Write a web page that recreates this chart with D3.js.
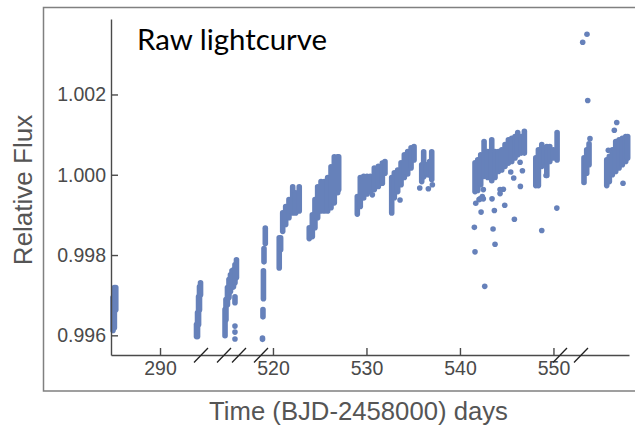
<!DOCTYPE html>
<meta charset="utf-8">
<script src="https://d3js.org/d3.v7.min.js"></script>
<style>
    body { margin: 0; background: white; }
    text { font-family: "Liberation Sans", Arial, sans-serif; }
</style>
<svg id="vis"></svg>

<script>
    // broken time axis: each pair of values is one visible stretch of days
    const axisDays = [284.76, 294.38, 500, 501.6, 518.72, 550.7, 553, 558.13]
    const axisPixels = [111, 201, 224, 239, 261, 560, 581, 629]
    const breakDays = [294.38, 500, 501.6, 518.72, 550.7, 553]

    const timeTicks = [290, 520, 530, 540, 550]
    const fluxTicks = [0.996, 0.998, 1.000, 1.002]

    // the points overlap too much to read singly, so dense runs are kept
    // as [day, lowest flux, highest flux] per column
    const earlyRuns = [
        [284.97, 0.99612, 0.99694], [285.12, 0.99619, 0.99719], [285.27, 0.99664, 0.99719],
        [293.90, 0.99597, 0.99627], [294.01, 0.99597, 0.99656], [294.12, 0.99627, 0.99696],
        [294.22, 0.99664, 0.99721], [294.33, 0.99701, 0.99731],
        [500.11, 0.99599, 0.99664], [500.21, 0.99639, 0.99689], [500.37, 0.99676, 0.99719],
        [500.53, 0.99694, 0.99739], [500.69, 0.99709, 0.99751], [500.85, 0.99719, 0.99761],
        [501.01, 0.99721, 0.99763], [501.17, 0.99731, 0.99776], [501.17, 0.99681, 0.99696],
        [501.33, 0.99744, 0.99788],
        [518.88, 0.99590, 0.99593], [518.93, 0.99646, 0.99664], [518.98, 0.99691, 0.99761],
        [519.04, 0.99783, 0.99816], [519.18, 0.99829, 0.99867]
    ]
    const riseRuns = [
        [520.67, 0.99768, 0.99843], [520.82, 0.99813, 0.99843], [521.04, 0.99859, 0.99905],
        [521.36, 0.99876, 0.99921], [521.71, 0.99893, 0.99938], [522.11, 0.99905, 0.99970],
        [522.43, 0.99905, 0.99955], [522.81, 0.99910, 0.99970],
        [523.88, 0.99841, 0.99868], [524.21, 0.99846, 0.99900], [524.49, 0.99868, 0.99938],
        [524.78, 0.99893, 0.99970], [525.14, 0.99910, 0.99983], [525.49, 0.99910, 0.99983],
        [525.85, 0.99910, 0.99993], [526.21, 0.99918, 1.00020], [526.56, 0.99930, 1.00045],
        [526.92, 0.99955, 1.00045], [527.03, 0.99963, 1.00045]
    ]
    const plateauRuns = [
        [529.02, 0.99902, 0.99946], [529.34, 0.99921, 0.99993], [529.70, 0.99942, 0.99996],
        [530.06, 0.99952, 0.99996], [530.41, 0.99958, 0.99996], [530.84, 0.99963, 1.00017],
        [531.27, 0.99971, 1.00021], [531.70, 0.99979, 1.00029], [531.98, 1.00004, 1.00033],
        [532.70, 0.99905, 0.99993], [532.98, 0.99943, 1.00005], [533.34, 0.99958, 1.00012],
        [533.70, 0.99975, 1.00030], [534.05, 0.99993, 1.00050], [534.41, 1.00002, 1.00058],
        [534.77, 1.00017, 1.00067], [535.09, 1.00037, 1.00070],
        [535.91, 0.99983, 1.00025], [536.12, 0.99995, 1.00057], [536.37, 1.00005, 1.00025],
        [536.55, 1.00000, 1.00025], [536.75, 1.00000, 1.00033], [536.98, 0.99988, 1.00057]
    ]
    const lateRuns = [
        [541.61, 0.99958, 1.00030], [541.90, 0.99961, 1.00037], [542.22, 0.99975, 1.00050],
        [542.58, 0.99996, 1.00083], [542.97, 0.99993, 1.00058], [543.40, 0.99985, 1.00087],
        [543.75, 0.99993, 1.00058], [544.11, 1.00008, 1.00058], [544.47, 1.00012, 1.00062],
        [544.82, 1.00021, 1.00075], [545.18, 1.00029, 1.00087], [545.54, 1.00033, 1.00091],
        [545.89, 1.00042, 1.00095], [546.18, 1.00050, 1.00105], [546.54, 1.00054, 1.00095],
        [546.89, 1.00054, 1.00108],
        [548.11, 0.99973, 1.00042], [548.39, 0.99973, 1.00062], [548.75, 1.00021, 1.00075],
        [549.00, 1.00030, 1.00067], [549.29, 0.99998, 1.00070], [549.61, 1.00033, 1.00070],
        [549.99, 1.00042, 1.00062], [550.39, 1.00037, 1.00105],
        [553.32, 0.99981, 1.00042], [553.61, 1.00004, 1.00062], [553.86, 1.00025, 1.00077],
        [555.75, 0.99973, 1.00037], [556.03, 0.99983, 1.00046], [556.35, 1.00000, 1.00062],
        [556.71, 1.00008, 1.00083], [557.07, 1.00017, 1.00087], [557.42, 1.00025, 1.00091],
        [557.78, 1.00033, 1.00095], [557.99, 1.00042, 1.00095]
    ]

    // separate points, [day, flux]
    const strayPoints = [
        [501.17, 0.99623], [501.17, 0.99608], [501.17, 0.99591],
        [530.63, 0.99950], [533.59, 0.99937], [535.70, 0.99967], [537.05, 0.99975], [536.62, 0.99965],
        [546.43, 1.00031], [546.68, 1.00010], [545.43, 1.00007], [545.75, 0.99992], [546.46, 0.99971],
        [542.50, 0.99963], [544.64, 0.99964], [544.29, 0.99963], [544.29, 0.99953], [542.39, 0.99946],
        [542.15, 0.99940], [542.50, 0.99940], [542.04, 0.99938], [541.69, 0.99929], [543.43, 0.99940],
        [544.79, 0.99924], [543.68, 0.99911], [542.26, 0.99907], [545.82, 0.99889], [541.54, 0.99869],
        [543.54, 0.99865], [543.75, 0.99827], [541.61, 0.99808], [542.65, 0.99722],
        [550.36, 0.99917], [548.75, 0.99861], [549.21, 0.99998],
        [553.64, 1.00350], [553.18, 1.00330], [553.72, 1.00185], [553.96, 1.00090],
        [556.82, 1.00130], [556.56, 1.00111], [555.92, 1.00061], [557.49, 0.99979]
    ]

    const blue = '#6681ba'
    const dark = '#4a4a4a'
    const dotSize = 2.8

    let svg = d3.select('#vis')
        .attr('width', 635)
        .attr('height', 425)
        .style('display', 'block')

    let x = d3.scaleLinear().domain(axisDays).range(axisPixels)
    let y = d3.scaleLinear().domain([0.99551, 1.00388]).range([355, 19])

    // frame around the pasted plot, open on the right
    svg.append('path')
        .attr('d', 'M635,7.5 H43.5 V391 H635')
        .attr('fill', 'none')
        .attr('stroke', '#808080')
        .attr('stroke-width', 1.5)

    // dense runs
    svg.selectAll('line.run')
        .data([...earlyRuns, ...riseRuns, ...plateauRuns, ...lateRuns])
        .enter().append('line')
        .attr('class', 'run')
        .attr('x1', d => x(d[0]))
        .attr('x2', d => x(d[0]))
        .attr('y1', d => y(d[1]))
        .attr('y2', d => y(d[2]))
        .attr('stroke', blue)
        .attr('stroke-width', dotSize * 2)
        .attr('stroke-linecap', 'round')

    svg.selectAll('circle.stray')
        .data(strayPoints)
        .enter().append('circle')
        .attr('class', 'stray')
        .attr('cx', d => x(d[0]))
        .attr('cy', d => y(d[1]))
        .attr('r', dotSize)
        .attr('fill', blue)

    // axes, ticks point into the plot
    let xAxis = svg.append('g')
        .attr('transform', 'translate(0,355)')
        .call(d3.axisBottom(x).tickValues(timeTicks).tickFormat(d3.format('d'))
            .tickSizeInner(-7).tickSizeOuter(0).tickPadding(6))

    let yAxis = svg.append('g')
        .attr('transform', 'translate(111,0)')
        .call(d3.axisLeft(y).tickValues(fluxTicks).tickFormat(d3.format('.3f'))
            .tickSizeInner(-7).tickSizeOuter(0).tickPadding(5))

    for (let axis of [xAxis, yAxis]) {
        axis.selectAll('path, line').attr('stroke', dark).attr('stroke-width', 1.4)
        axis.selectAll('text')
            .attr('fill', dark)
            .style('font-size', '19.5px')
            .style('font-family', '"Liberation Sans", Arial, sans-serif')
    }

    // axis break marks
    svg.selectAll('line.break')
        .data(breakDays)
        .enter().append('line')
        .attr('class', 'break')
        .attr('x1', d => x(d) - 7)
        .attr('x2', d => x(d) + 7)
        .attr('y1', 362.5)
        .attr('y2', 348)
        .attr('stroke', '#222')
        .attr('stroke-width', 1.3)

    svg.append('text')
        .attr('x', 358.5)
        .attr('y', 420)
        .attr('text-anchor', 'middle')
        .attr('fill', '#555')
        .style('font-size', '25.7px')
        .text('Time (BJD-2458000) days')

    svg.append('text')
        .attr('transform', 'translate(32,190) rotate(-90)')
        .attr('text-anchor', 'middle')
        .attr('fill', '#555')
        .style('font-size', '26px')
        .text('Relative Flux')

    svg.append('text')
        .attr('x', 137)
        .attr('y', 50)
        .attr('fill', 'black')
        .style('font-family', 'Lato, sans-serif')
        .style('font-size', '29.4px')
        .text('Raw lightcurve')
</script>
